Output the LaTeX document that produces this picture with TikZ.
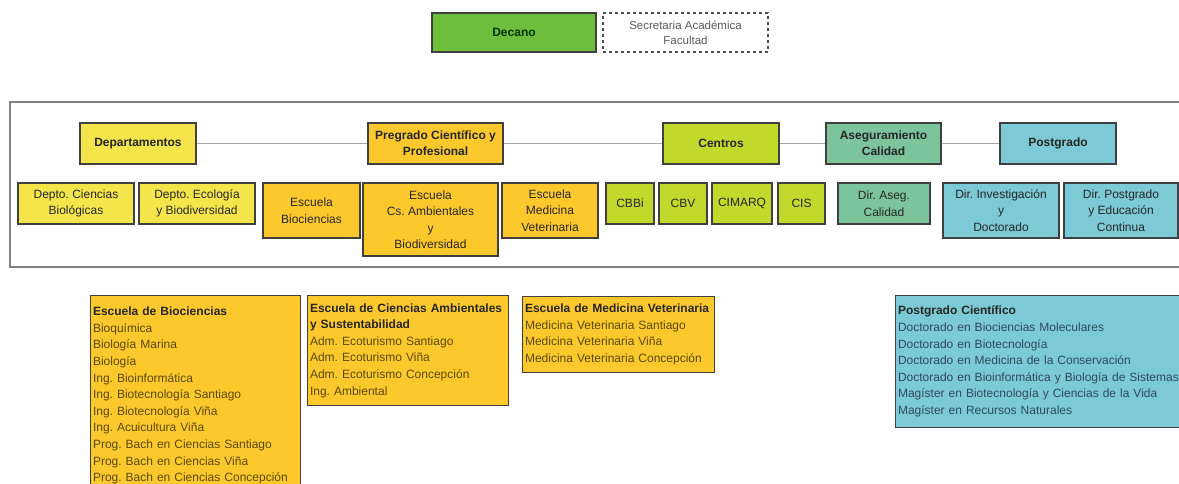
\documentclass[tikz,border=0pt]{standalone}
\usepackage{fontspec}
\setmainfont{Liberation Sans}
\frenchspacing
\definecolor{decgreen}{HTML}{6DBE3C}
\definecolor{depyellow}{HTML}{F4E64A}
\definecolor{preorange}{HTML}{FCC82C}
\definecolor{cenlime}{HTML}{C2D92C}
\definecolor{asegreen}{HTML}{7CC59C}
\definecolor{posblue}{HTML}{7CCAD6}
\definecolor{olivetext}{HTML}{5A4A08}
\definecolor{bluetext}{HTML}{2F4A5C}
\begin{document}
\begin{tikzpicture}[x=1pt, y=-1pt,
    box/.style={draw=black!75, line width=1.1pt, align=center, inner sep=1pt,
      text=black!85, font=\fontsize{12}{16.5}\selectfont},
    head/.style={box, minimum height=41pt, font=\bfseries\fontsize{12}{16}\selectfont},
    list/.style={draw=black!75, line width=1.1pt, anchor=north west, align=left,
      inner xsep=2.5pt, inner ysep=2pt, font=\fontsize{12}{16.6}\selectfont}]
    \clip (0,0) rectangle (1179,483);

    % top
    \node[box, fill=decgreen, text=black!80!green, minimum width=164pt, minimum height=39pt,
      font=\bfseries\fontsize{12}{14}\selectfont] (decano) at (514,32.5) {Decano};
    \node[box, draw=black!70, dashed, text=black!65, minimum width=165pt, minimum height=39pt,
      font=\fontsize{11.5}{15}\selectfont] (secre) at (685.5,32.5) {Secretaria Académica\\Facultad};

    % frame
    \draw[black!50, line width=1.3pt] (10,102) rectangle (1200,267);

    % first level
    \node[head, fill=depyellow, minimum width=116pt] (dep) at (138,143.5) {Departamentos};
    \node[head, fill=preorange, minimum width=135pt] (pre) at (435.5,143.5) {Pregrado Científico y\\Profesional};
    \node[head, fill=cenlime, minimum width=116pt] (cen) at (721,143.5) {Centros};
    \node[head, fill=asegreen, minimum width=115pt] (ase) at (883.5,143.5) {Aseguramiento\\Calidad};
    \node[head, fill=posblue, minimum width=116pt] (pos) at (1058,143.5) {Postgrado};

    \draw[black!35, line width=1.3pt] (dep) -- (pre);
    \draw[black!35, line width=1.3pt] (pre) -- (cen);
    \draw[black!35, line width=1.3pt] (cen) -- (ase);
    \draw[black!35, line width=1.3pt] (ase) -- (pos);

    % second level
    \node[box, fill=depyellow, minimum width=116pt, minimum height=41pt] (dcb) at (76,203.5) {Depto. Ciencias\\Biológicas};
    \node[box, fill=depyellow, minimum width=116pt, minimum height=41pt] (deb) at (197,203.5) {Depto. Ecología\\y Biodiversidad};
    \node[box, fill=preorange, minimum width=97pt, minimum height=55pt] (ebio) at (311.5,210.5) {Escuela\\Biociencias};
    \node[box, fill=preorange, minimum width=135pt, minimum height=73pt] (eamb) at (430.5,219.5) {Escuela\\Cs. Ambientales\\y\\Biodiversidad};
    \node[box, fill=preorange, minimum width=96pt, minimum height=55pt] (emv) at (550,210.5) {Escuela\\Medicina\\Veterinaria};
    \node[box, fill=cenlime, minimum width=48pt, minimum height=41pt] (cbbi) at (630,203.5) {CBBi};
    \node[box, fill=cenlime, minimum width=48pt, minimum height=41pt] (cbv) at (683,203.5) {CBV};
    \node[box, fill=cenlime, minimum width=60pt, minimum height=41pt] (cimarq) at (742,203.5) {CIMARQ};
    \node[box, fill=cenlime, minimum width=47pt, minimum height=41pt] (cis) at (801.5,203.5) {CIS};
    \node[box, fill=asegreen, minimum width=92pt, minimum height=41pt] (daseg) at (884,203.5) {Dir. Aseg.\\Calidad};
    \node[box, fill=posblue, minimum width=116pt, minimum height=55pt] (dinv) at (1001,210.5) {Dir. Investigación\\y\\Doctorado};
    \node[box, fill=posblue, minimum width=114pt, minimum height=55pt] (dpos) at (1121,210.5) {Dir. Postgrado\\y Educación\\Continua};

    % program lists
    \node[list, fill=preorange, text=olivetext, text width=205pt, minimum height=200pt] (lbio) at (90,295)
      {\textcolor{black!85}{\bfseries Escuela de Biociencias}\\Bioquímica\\Biología Marina\\Biología\\Ing. Bioinformática\\Ing. Biotecnología Santiago\\Ing. Biotecnología Viña\\Ing. Acuicultura Viña\\Prog. Bach en Ciencias Santiago\\Prog. Bach en Ciencias Viña\\Prog. Bach en Ciencias Concepción};
    \node[list, fill=preorange, text=olivetext, text width=196pt, minimum height=110pt] (lamb) at (307,295)
      {\textcolor{black!85}{\bfseries Escuela de Ciencias Ambientales}\\\textcolor{black!85}{\bfseries y Sustentabilidad}\\Adm. Ecoturismo Santiago\\Adm. Ecoturismo Viña\\Adm. Ecoturismo Concepción\\Ing. Ambiental};
    \node[list, fill=preorange, text=olivetext, text width=187pt, minimum height=76pt] (lmv) at (522,296)
      {\textcolor{black!85}{\bfseries Escuela de Medicina Veterinaria}\\Medicina Veterinaria Santiago\\Medicina Veterinaria Viña\\Medicina Veterinaria Concepción};
    \node[list, fill=posblue, text=bluetext, text width=300pt, minimum height=132pt] (lpos) at (895,295)
      {\textcolor{black!85}{\bfseries Postgrado Científico}\\Doctorado en Biociencias Moleculares\\Doctorado en Biotecnología\\Doctorado en Medicina de la Conservación\\Doctorado en Bioinformática y Biología de Sistemas\\Magíster en Biotecnología y Ciencias de la Vida\\Magíster en Recursos Naturales};
\end{tikzpicture}
\end{document}
